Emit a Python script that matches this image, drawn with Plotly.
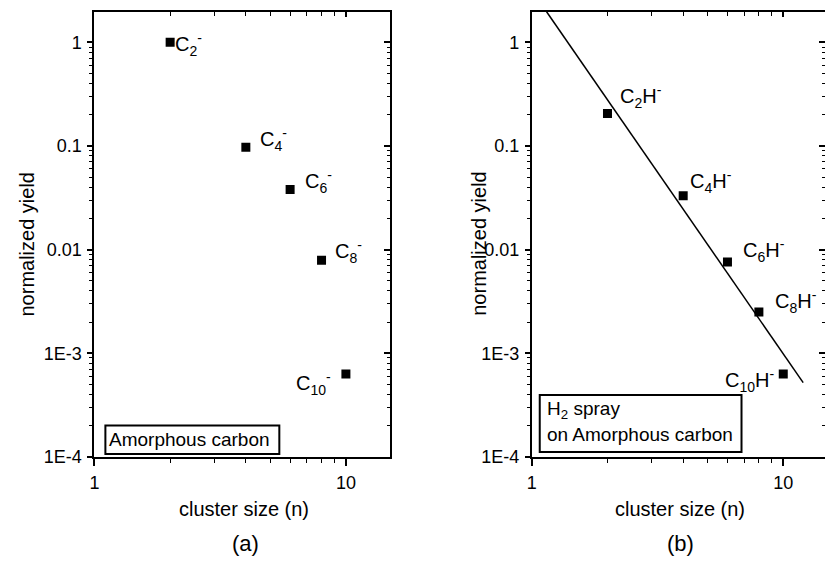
import math
import plotly.graph_objects as go

# ---- data ----
cluster_size = [2, 4, 6, 8, 10]
yield_amorphous = [1.0, 0.097, 0.038, 0.0079, 0.00063]
labels_a = ["C<sub>2</sub><sup>-</sup>", "C<sub>4</sub><sup>-</sup>", "C<sub>6</sub><sup>-</sup>",
            "C<sub>8</sub><sup>-</sup>", "C<sub>10</sub><sup>-</sup>"]
yield_h2 = [0.205, 0.033, 0.0076, 0.0025, 0.00063]
labels_b = ["C<sub>2</sub>H<sup>-</sup>", "C<sub>4</sub>H<sup>-</sup>", "C<sub>6</sub>H<sup>-</sup>",
            "C<sub>8</sub>H<sup>-</sup>", "C<sub>10</sub>H<sup>-</sup>"]
fit_x = [1.145, 12.0]
fit_y = [1.97, 0.00052]
y_tickvals = [1e-4, 1e-3, 1e-2, 1e-1, 1]
y_ticktext = ["1E-4", "1E-3", "0.01", "0.1", "1"]

W, H = 825, 571
FONT = "Liberation Sans, Arial, sans-serif"

def px(x):
    return x / W

def py(y):
    return 1 - y / H

ydom = [py(465), py(12)]
xdom_a = [px(90), px(387)]
xdom_b = [px(530), 1.0]
xr_a = [0, 1.174]
xr_b = [0, (825 - 530) / 253]
yr = [-4, 0.294]

fig = go.Figure()
fig.add_trace(go.Scatter(x=cluster_size, y=yield_amorphous, mode="markers",
                         marker=dict(symbol="square", size=9, color="black"),
                         xaxis="x", yaxis="y", showlegend=False))
fig.add_trace(go.Scatter(x=fit_x, y=fit_y, mode="lines",
                         line=dict(color="black", width=1.5),
                         xaxis="x2", yaxis="y2", showlegend=False))
fig.add_trace(go.Scatter(x=cluster_size, y=yield_h2, mode="markers",
                         marker=dict(symbol="square", size=9, color="black"),
                         xaxis="x2", yaxis="y2", showlegend=False))
# invisible traces for the mirrored (top/right) tick axes
fig.add_trace(go.Scatter(x=[2], y=[0.01], mode="markers", marker=dict(opacity=0),
                         xaxis="x3", yaxis="y3", showlegend=False, hoverinfo="skip"))
fig.add_trace(go.Scatter(x=[2], y=[0.01], mode="markers", marker=dict(opacity=0),
                         xaxis="x4", yaxis="y4", showlegend=False, hoverinfo="skip"))

tickfont = dict(family=FONT, size=18, color="black")

def xax(dom, rng, anchor):
    return dict(type="log", domain=dom, range=rng, anchor=anchor, showgrid=False, zeroline=False,
                showline=True, linewidth=2, linecolor="black", ticks="outside", ticklen=7,
                tickwidth=1.5, tickcolor="black", tickmode="linear", tick0=0, dtick=1,
                tickfont=tickfont, ticklabelstandoff=2,
                minor=dict(dtick="D1", ticks="outside", ticklen=4,
                           tickwidth=1.2, tickcolor="black", showgrid=False))

def yax(dom, anchor):
    return dict(type="log", domain=dom, range=yr, anchor=anchor, showgrid=False, zeroline=False,
                showline=True, linewidth=2, linecolor="black", ticks="outside", ticklen=5,
                tickwidth=1.5, tickcolor="black", tickmode="array", tickvals=y_tickvals,
                ticktext=y_ticktext, tickfont=tickfont, ticklabelstandoff=2,
                minor=dict(dtick="D1", ticks="outside", ticklen=3,
                           tickwidth=1.2, tickcolor="black", showgrid=False))

def xmirror(over, rng, anchor):
    return dict(type="log", overlaying=over, side="top", range=rng, anchor=anchor,
                showgrid=False, zeroline=False, showline=True, linewidth=2, linecolor="black",
                ticks="inside", ticklen=5, tickwidth=1.5, tickcolor="black",
                tickmode="linear", tick0=0, dtick=1, showticklabels=False,
                minor=dict(dtick="D1", ticks="inside", ticklen=4,
                           tickwidth=1.2, tickcolor="black", showgrid=False))

def ymirror(over, anchor):
    return dict(type="log", overlaying=over, side="right", range=yr, anchor=anchor,
                showgrid=False, zeroline=False, showline=True, linewidth=2, linecolor="black",
                ticks="inside", ticklen=6, tickwidth=1.5, tickcolor="black",
                tickmode="linear", tick0=0, dtick=1, showticklabels=False,
                minor=dict(dtick="D1", ticks="inside", ticklen=3,
                           tickwidth=1.2, tickcolor="black", showgrid=False))

fig.update_layout(
    width=W, height=H, margin=dict(l=0, r=0, t=0, b=0),
    paper_bgcolor="white", plot_bgcolor="white",
    font=dict(family=FONT, color="black"),
    xaxis=xax(xdom_a, xr_a, "y"), yaxis=yax(ydom, "x"),
    xaxis2=xax(xdom_b, xr_b, "y2"), yaxis2=yax(ydom, "x2"),
    xaxis3=xmirror("x", xr_a, "y"), yaxis3=ymirror("y", "x"),
    xaxis4=xmirror("x2", xr_b, "y2"), yaxis4=ymirror("y2", "x2"),
)

labfont = dict(family=FONT, size=20, color="black")
# label offsets (pixels) relative to each marker
off_a = [(3, -2, "left"), (12, 7.5, "left"), (13, 8, "left"), (11, 9, "left"), (-13, -9, "right")]
off_b = [(11, 17, "left"), (5, 14.5, "left"), (14, 11, "left"), (14, 10, "left"), (-7, -6, "right")]
for xv, yv, t, (dx, dy, anc) in zip(cluster_size, yield_amorphous, labels_a, off_a):
    fig.add_annotation(x=math.log10(xv), y=math.log10(yv),
                       xref="x", yref="y", text=t, showarrow=False, xanchor=anc,
                       yanchor="middle", xshift=dx, yshift=dy, font=labfont)
for xv, yv, t, (dx, dy, anc) in zip(cluster_size, yield_h2, labels_b, off_b):
    fig.add_annotation(x=math.log10(xv), y=math.log10(yv),
                       xref="x2", yref="y2", text=t, showarrow=False, xanchor=anc,
                       yanchor="middle", xshift=dx, yshift=dy, font=labfont)

titlefont = dict(family=FONT, size=20, color="black")
for cx in (22, 477):
    fig.add_annotation(x=px(cx), y=py(248), xref="paper", yref="paper", text="normalized yield",
                       textangle=-90, showarrow=False, xanchor="center", yanchor="middle",
                       font=titlefont)
for cx in (240, 679):
    fig.add_annotation(x=px(cx), y=py(518), xref="paper", yref="paper", text="cluster size (n)",
                       showarrow=False, xanchor="center", yanchor="middle", font=titlefont)
for cx, t in ((242, "(a)"), (680, "(b)")):
    fig.add_annotation(x=px(cx), y=py(553), xref="paper", yref="paper", text=t,
                       showarrow=False, xanchor="center", yanchor="middle",
                       font=dict(family=FONT, size=22, color="black"))

# legend-like boxes
boxfont = dict(family=FONT, size=19, color="black")
fig.add_shape(type="rect", xref="paper", yref="paper", x0=px(101), x1=px(276), y0=py(462), y1=py(433),
              line=dict(color="black", width=2), fillcolor="white")
fig.add_annotation(x=px(103), y=py(447), xref="paper", yref="paper", text="Amorphous carbon",
                   showarrow=False, xanchor="left", yanchor="middle", font=boxfont)
fig.add_shape(type="rect", xref="paper", yref="paper", x0=px(538), x1=px(741), y0=py(460), y1=py(402),
              line=dict(color="black", width=2), fillcolor="white")
fig.add_annotation(x=px(543), y=py(417), xref="paper", yref="paper", text="H<sub>2</sub> spray",
                   showarrow=False, xanchor="left", yanchor="middle", font=boxfont)
fig.add_annotation(x=px(543), y=py(442), xref="paper", yref="paper", text="on Amorphous carbon",
                   showarrow=False, xanchor="left", yanchor="middle", font=boxfont)

fig.write_html("out.html", config={"displayModeBar": False},
               post_script="document.body.style.margin='0px';")
